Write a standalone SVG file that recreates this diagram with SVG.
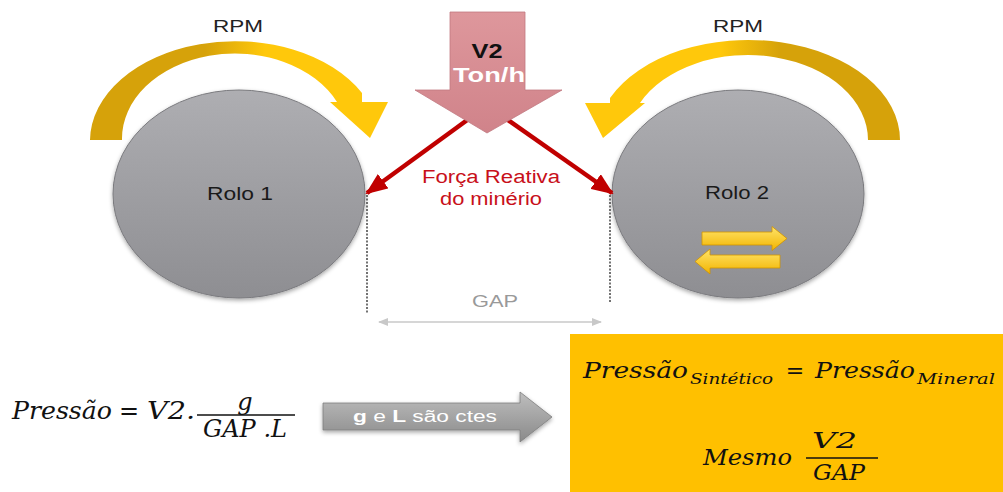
<svg xmlns="http://www.w3.org/2000/svg" width="1003" height="492" viewBox="0 0 1003 492">
  <defs>
    <linearGradient id="gLeftRpm" gradientUnits="userSpaceOnUse" x1="205" y1="0" x2="265" y2="0">
      <stop offset="0" stop-color="#D6A20A"/>
      <stop offset="1" stop-color="#FFC80B"/>
    </linearGradient>
    <linearGradient id="gRightRpm" gradientUnits="userSpaceOnUse" x1="720" y1="0" x2="780" y2="0">
      <stop offset="0" stop-color="#FFC80B"/>
      <stop offset="1" stop-color="#D6A20A"/>
    </linearGradient>
    <linearGradient id="gRoll" x1="0" y1="0" x2="0" y2="1">
      <stop offset="0" stop-color="#AEAEB2"/>
      <stop offset="1" stop-color="#8E8E92"/>
    </linearGradient>
    <linearGradient id="gPink" x1="0" y1="0" x2="0" y2="1">
      <stop offset="0" stop-color="#DE979C"/>
      <stop offset="1" stop-color="#D0838A"/>
    </linearGradient>
    <linearGradient id="gGrayArrow" x1="0" y1="0" x2="0" y2="1">
      <stop offset="0" stop-color="#BEBEBE"/>
      <stop offset="1" stop-color="#8A8A8A"/>
    </linearGradient>
    <linearGradient id="gYellowArrow" x1="0" y1="0" x2="0" y2="1">
      <stop offset="0" stop-color="#FFE46A"/>
      <stop offset="1" stop-color="#F2B400"/>
    </linearGradient>
    <filter id="shadow" x="-10%" y="-10%" width="120%" height="125%">
      <feDropShadow dx="0" dy="2" stdDeviation="2" flood-color="#000" flood-opacity="0.35"/>
    </filter>
    <marker id="redHead" markerUnits="userSpaceOnUse" markerWidth="22" markerHeight="18" refX="20" refY="9" orient="auto">
      <path d="M0,0 L22,9 L0,18 Z" fill="#C00000"/>
    </marker>
    <marker id="grayHeadEnd" markerUnits="userSpaceOnUse" markerWidth="10" markerHeight="8" refX="9" refY="4" orient="auto">
      <path d="M0,0 L10,4 L0,8 Z" fill="#C8C8C8"/>
    </marker>
    <marker id="grayHeadStart" markerUnits="userSpaceOnUse" markerWidth="10" markerHeight="8" refX="1" refY="4" orient="auto">
      <path d="M10,0 L0,4 L10,8 Z" fill="#C8C8C8"/>
    </marker>
  </defs>
  <style>
    .sans { font-family: "Liberation Sans", Arial, sans-serif; }
    .math { font-family: "DejaVu Serif", "Liberation Serif", serif; font-style: italic; fill: #111; }
    .mathUp { font-family: "DejaVu Serif", "Liberation Serif", serif; fill: #111; }
    .roll { fill: url(#gRoll); stroke: #7A7A7E; stroke-width: 1; filter: url(#shadow); }
    .rollLabel { font-size: 18px; fill: #1A1A1A; }
    .rpm { font-size: 17px; fill: #222; }
    .red { fill: #C8101A; font-size: 18px; }
    .dotted { stroke: #444; stroke-width: 1.5; stroke-dasharray: 2 1.5; fill: none; }
    .redArrow { stroke: #C00000; stroke-width: 4.5; fill: none; marker-end: url(#redHead); }
    .yArrow { fill: url(#gYellowArrow); stroke: #D09400; stroke-width: 0.8; }
  </style>

  <rect width="1003" height="492" fill="#FFFFFF"/>

  <!-- Rolls -->
  <g id="rolo1">
    <ellipse class="roll" cx="239" cy="194" rx="126" ry="104"/>
    <text class="sans rollLabel" x="240" y="200" text-anchor="middle" textLength="66" lengthAdjust="spacingAndGlyphs">Rolo 1</text>
  </g>
  <g id="rolo2">
    <ellipse class="roll" cx="738" cy="194" rx="126" ry="104"/>
    <text class="sans rollLabel" x="737" y="199" text-anchor="middle" textLength="64" lengthAdjust="spacingAndGlyphs">Rolo 2</text>
    <path class="yArrow" d="M702 232 L772 232 L772 226.5 L787 238.5 L772 250.5 L772 245 L702 245 Z"/>
    <path class="yArrow" d="M780 255 L710 255 L710 249 L695 261.5 L710 274 L710 268 L780 268 Z"/>
  </g>

  <!-- RPM arrows -->
  <g id="rpm1">
    <path d="M90 140 A145 100 0 0 1 362 93 L362 102 L388 102 L370 138 L330 102 L337 102 A113 85 0 0 0 122 140 Z" fill="url(#gLeftRpm)"/>
    <text class="sans rpm" x="238" y="32" text-anchor="middle" textLength="50" lengthAdjust="spacingAndGlyphs">RPM</text>
  </g>
  <g id="rpm2">
    <path d="M900 140 A152 100 0 0 0 610 98 L610 103 L585 103 L603 138 L645 103 L640 103 A120 85 0 0 1 868 140 Z" fill="url(#gRightRpm)"/>
    <text class="sans rpm" x="738" y="32" text-anchor="middle" textLength="50" lengthAdjust="spacingAndGlyphs">RPM</text>
  </g>

  <!-- Connectors -->
  <g id="connectors">
    <line class="redArrow" x1="470" y1="118" x2="367" y2="193"/>
    <line class="redArrow" x1="505" y1="118" x2="612" y2="193"/>
    <line class="dotted" x1="367" y1="195" x2="367" y2="314"/>
    <line class="dotted" x1="610" y1="195" x2="610" y2="302"/>
    <line x1="379" y1="322" x2="601" y2="322" stroke="#C8C8C8" stroke-width="1.5" marker-start="url(#grayHeadStart)" marker-end="url(#grayHeadEnd)"/>
  </g>

  <!-- V2 feed arrow -->
  <g id="v2">
    <path d="M450 12 L525 12 L525 90 L562 90 L487 133 L415 90 L450 90 Z" fill="url(#gPink)" stroke="#C27A81" stroke-width="0.8"/>
    <text class="sans" x="487" y="58" text-anchor="middle" font-size="21" font-weight="bold" fill="#111" textLength="31" lengthAdjust="spacingAndGlyphs">V2</text>
    <text class="sans" x="489" y="82" text-anchor="middle" font-size="21" font-weight="bold" fill="#FFFFFF" textLength="72" lengthAdjust="spacingAndGlyphs">Ton/h</text>
  </g>

  <g id="forca">
    <text class="sans red" x="491" y="183" text-anchor="middle" textLength="138" lengthAdjust="spacingAndGlyphs">Força Reativa</text>
    <text class="sans red" x="491" y="205" text-anchor="middle" textLength="102" lengthAdjust="spacingAndGlyphs">do minério</text>
  </g>

  <g id="gap">
    <text class="sans" x="495" y="307" text-anchor="middle" font-size="17" fill="#999999" textLength="46" lengthAdjust="spacingAndGlyphs">GAP</text>
  </g>

  <!-- Formula 1 -->
  <g id="formula1">
    <text class="math" x="12" y="419" font-size="24" textLength="100" lengthAdjust="spacingAndGlyphs">Pressão</text>
    <text class="mathUp" x="129" y="419" font-size="24" text-anchor="middle">=</text>
    <text class="math" x="147" y="419" font-size="24" textLength="48" lengthAdjust="spacingAndGlyphs">V2.</text>
    <text class="math" x="245" y="410" font-size="24" text-anchor="middle">g</text>
    <line x1="197" y1="415" x2="295" y2="415" stroke="#111" stroke-width="1.5"/>
    <text class="math" x="203" y="437" font-size="24" textLength="84" lengthAdjust="spacingAndGlyphs">GAP .L</text>
  </g>

  <!-- Gray arrow -->
  <g id="constantes">
    <path d="M323 403 L520 403 L520 392 L552 417 L520 442 L520 430 L323 430 Z" fill="url(#gGrayArrow)" stroke="#7E7E7E" stroke-width="0.8" filter="url(#shadow)"/>
    <text class="sans" x="353" y="422" font-size="16" fill="#FFFFFF" textLength="144" lengthAdjust="spacingAndGlyphs"><tspan font-weight="bold">g</tspan> e <tspan font-weight="bold">L</tspan> são ctes</text>
  </g>

  <!-- Yellow result box -->
  <g id="resultado">
    <rect x="570" y="334" width="433" height="158" fill="#FFC000"/>
    <text class="math" x="583" y="378" font-size="22" textLength="105" lengthAdjust="spacingAndGlyphs">Pressão</text>
    <text class="math" x="690" y="384" font-size="15" textLength="83" lengthAdjust="spacingAndGlyphs">Sintético</text>
    <text class="mathUp" x="795" y="378" font-size="22" text-anchor="middle">=</text>
    <text class="math" x="815" y="378" font-size="22" textLength="100" lengthAdjust="spacingAndGlyphs">Pressão</text>
    <text class="math" x="917" y="384" font-size="15" textLength="78" lengthAdjust="spacingAndGlyphs">Mineral</text>
    <text class="math" x="703" y="465" font-size="22" textLength="89" lengthAdjust="spacingAndGlyphs">Mesmo</text>
    <text class="math" x="812" y="448" font-size="22" textLength="45" lengthAdjust="spacingAndGlyphs">V2</text>
    <line x1="806" y1="458" x2="878" y2="458" stroke="#111" stroke-width="1.5"/>
    <text class="math" x="813" y="480" font-size="22" textLength="52" lengthAdjust="spacingAndGlyphs">GAP</text>
  </g>
</svg>
